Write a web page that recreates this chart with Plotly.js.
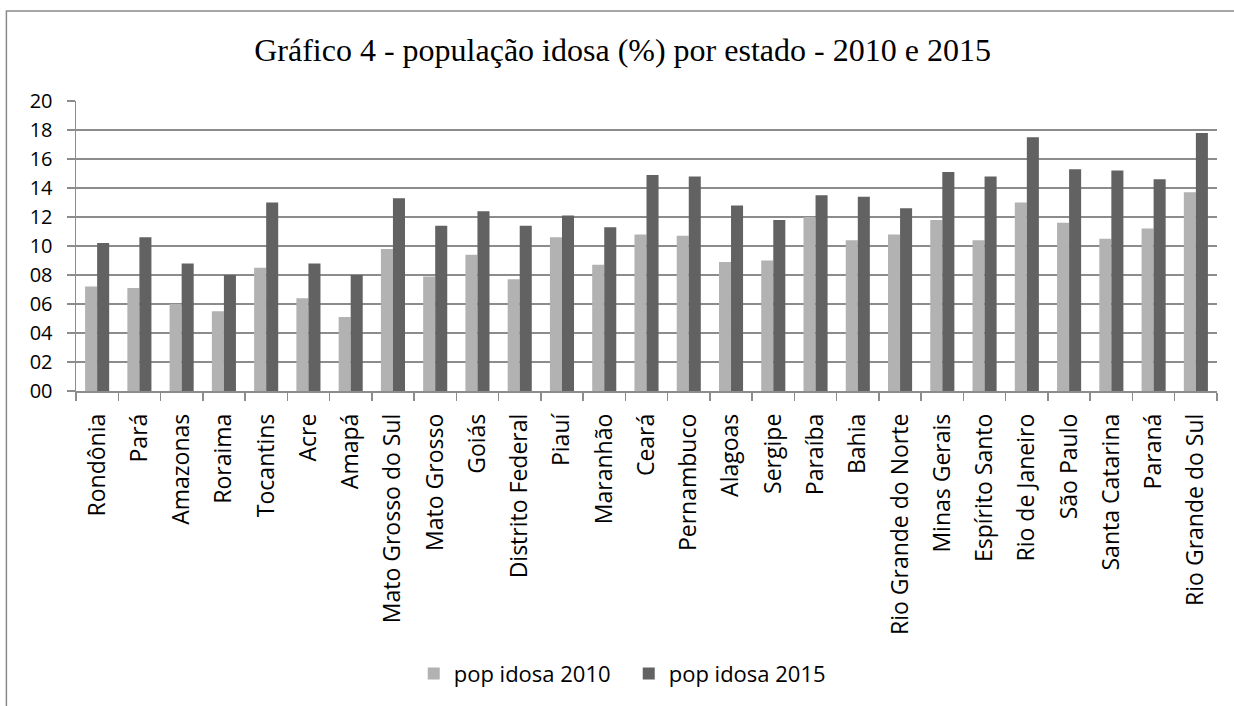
<!DOCTYPE html>
<html>
<head>
<meta charset="utf-8">
<script src="https://cdn.plot.ly/plotly-3.0.1.min.js"></script>
<style>
  html, body { margin: 0; padding: 0; background: #ffffff; }
  #chart { width: 1234px; height: 706px; }
</style>
</head>
<body>
<div id="chart"></div>
<script>
const states = [
  "Rondônia", "Pará", "Amazonas", "Roraima", "Tocantins", "Acre", "Amapá",
  "Mato Grosso do Sul", "Mato Grosso", "Goiás", "Distrito Federal", "Piauí",
  "Maranhão", "Ceará", "Pernambuco", "Alagoas", "Sergipe", "Paraíba", "Bahia",
  "Rio Grande do Norte", "Minas Gerais", "Espírito Santo", "Rio de Janeiro",
  "São Paulo", "Santa Catarina", "Paraná", "Rio Grande do Sul"
];
const pop2010 = [
  7.2, 7.1, 6.0, 5.5, 8.5, 6.4, 5.1,
  9.8, 7.9, 9.4, 7.7, 10.6,
  8.7, 10.8, 10.7, 8.9, 9.0, 12.0, 10.4,
  10.8, 11.8, 10.4, 13.0,
  11.6, 10.5, 11.2, 13.7
];
const pop2015 = [
  10.2, 10.6, 8.8, 8.0, 13.0, 8.8, 8.0,
  13.3, 11.4, 12.4, 11.4, 12.1,
  11.3, 14.9, 14.8, 12.8, 11.8, 13.5, 13.4,
  12.6, 15.1, 14.8, 17.5,
  15.3, 15.2, 14.6, 17.8
];
const seriesNames = ["pop idosa 2010", "pop idosa 2015"];
const yTickVals = [0, 2, 4, 6, 8, 10, 12, 14, 16, 18, 20];
const yTickText = ["00", "02", "04", "06", "08", "10", "12", "14", "16", "18", "20"];
const titleText = "Gráfico 4 - população idosa (%) por estado - 2010 e 2015";

const fam = "Open Sans, Noto Sans, sans-serif";
const xFont = { family: fam, size: 23, color: "#000000" };
const yFont = { family: fam, size: 20, color: "#000000" };
const legFont = { family: fam, size: 22, color: "#000000" };
const gridColor = "#8c8c8c";

const traces = [
  { type: "bar", name: seriesNames[0], x: states, y: pop2010,
    marker: { color: "#b2b2b2", line: { width: 0 } } },
  { type: "bar", name: seriesNames[1], x: states, y: pop2015,
    marker: { color: "#626262", line: { width: 0 } } }
];

const layout = {
  width: 1234, height: 706,
  paper_bgcolor: "#ffffff", plot_bgcolor: "#ffffff",
  margin: { l: 76, r: 17, t: 101, b: 315, pad: 0 },
  barmode: "group", bargap: 0.43, bargroupgap: 0,
  showlegend: true,
  title: { text: titleText, x: 0.5045, xanchor: "center", y: 0.929, yanchor: "middle",
           font: { family: "Liberation Serif, Times New Roman, serif", size: 32, color: "#000000" } },
  xaxis: {
    type: "category", tickangle: -90, tickfont: xFont,
    showline: true, linecolor: gridColor, linewidth: 1.5,
    ticks: "outside", tickson: "boundaries", ticklen: 8, tickcolor: gridColor, tickwidth: 1.5,
    ticklabelstandoff: 12,
    showgrid: false, zeroline: false, automargin: false
  },
  yaxis: {
    range: [0, 20], tickvals: yTickVals, ticktext: yTickText, tickfont: yFont,
    showgrid: true, gridcolor: gridColor, gridwidth: 1.5,
    showline: true, linecolor: gridColor, linewidth: 1.5,
    ticks: "outside", ticklen: 8, tickcolor: gridColor, tickwidth: 1.5,
    ticklabelstandoff: 10, zeroline: false, automargin: false
  },
  legend: {
    orientation: "h", x: 0.296, xanchor: "left", y: -0.975, yanchor: "middle",
    font: legFont, itemwidth: 30, entrywidth: 170, entrywidthmode: "pixels",
    traceorder: "normal", bgcolor: "rgba(0,0,0,0)"
  },
  shapes: [
    { type: "rect", xref: "paper", yref: "paper",
      x0: -0.061, x1: 1.05, y0: -1.2, y1: 1.31,
      line: { color: "#8a8a8a", width: 1.5 }, fillcolor: "rgba(0,0,0,0)", layer: "below" }
  ]
};

Plotly.newPlot("chart", traces, layout, { displayModeBar: false, staticPlot: true });
</script>
</body>
</html>
